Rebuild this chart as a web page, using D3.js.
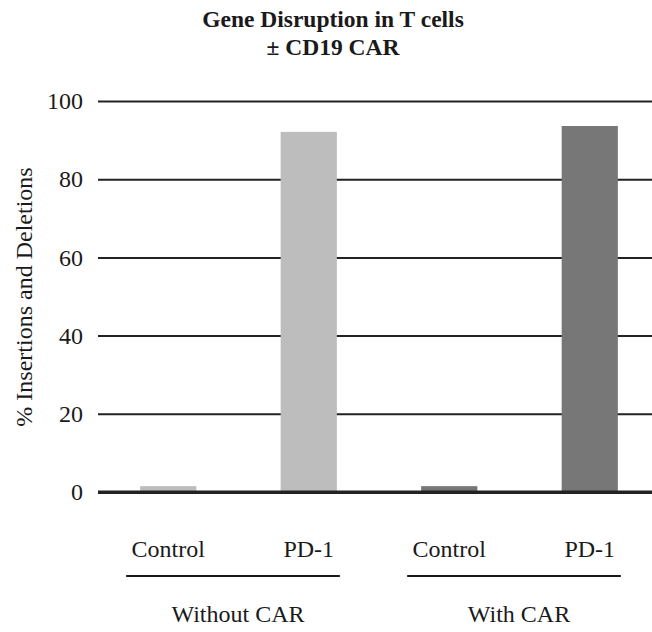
<!DOCTYPE html>
<html>
<head>
<meta charset="utf-8">
<script src="https://cdn.jsdelivr.net/npm/d3@7"></script>
<style>
  html, body { margin: 0; padding: 0; background: #fff; }
</style>
</head>
<body>
<svg id="chart" width="652" height="632"></svg>
<script>
// ---- data ----
const categories = ["Control", "PD-1", "Control", "PD-1"];
const groupOf = ["Without CAR", "Without CAR", "With CAR", "With CAR"];
const values = [1.5, 92.1, 1.5, 93.6];
const barColors = ["#bdbdbd", "#bdbdbd", "#777777", "#777777"];
const groups = ["Without CAR", "With CAR"];
const yTicks = [0, 20, 40, 60, 80, 100];
const titleLines = ["Gene Disruption in T cells", "\u00b1 CD19 CAR"];
const yLabel = "% Insertions and Deletions";

const FONT = '"Liberation Serif"';
const svg = d3.select("#chart");
const W = 652;

const x = d3.scaleBand()
  .domain(d3.range(categories.length))
  .range([98, 660])
  .paddingInner(0.6)
  .paddingOuter(0.3);

const y = d3.scaleLinear().domain([0, 100]).range([492, 101]);

function styleText(sel, size, weight) {
  return sel.style("font-family", FONT)
    .style("font-size", size + "px")
    .style("font-weight", weight || "normal")
    .attr("fill", "#1a1a1a");
}

// title
styleText(svg.append("g").selectAll("text").data(titleLines).join("text")
  .attr("x", 333)
  .attr("y", (d, i) => 27 + i * 28)
  .attr("text-anchor", "middle")
  .text(d => d), 23.5, "bold");

// gridlines + tick labels via axis
const yAxis = d3.axisLeft(y).tickValues(yTicks).tickSize(-(W - 98)).tickPadding(15).tickFormat(d3.format("d"));
const ga = svg.append("g").attr("transform", "translate(98,0)").call(yAxis);
ga.select(".domain").remove();
ga.selectAll(".tick line")
  .attr("stroke", "#222")
  .attr("stroke-width", d => d === 0 ? 3 : 2);
styleText(ga.selectAll(".tick text"), 24);

// y axis title
styleText(svg.append("text")
  .attr("transform", "translate(32,297) rotate(-90)")
  .attr("text-anchor", "middle")
  .text(yLabel), 24);

// bars
svg.append("g").selectAll("rect").data(values).join("rect")
  .attr("x", (d, i) => x(i))
  .attr("width", x.bandwidth())
  .attr("y", d => y(d))
  .attr("height", d => y(0) - y(d))
  .attr("fill", (d, i) => barColors[i]);

// baseline over bars' bottom edge
svg.append("line")
  .attr("x1", 98).attr("x2", W)
  .attr("y1", y(0)).attr("y2", y(0))
  .attr("stroke", "#222").attr("stroke-width", 3);

// category labels
styleText(svg.append("g").selectAll("text").data(categories).join("text")
  .attr("x", (d, i) => x(i) + x.bandwidth() / 2)
  .attr("y", 557)
  .attr("text-anchor", "middle")
  .text(d => d), 24);

// group underlines and labels
groups.forEach(g => {
  const idx = d3.range(categories.length).filter(i => groupOf[i] === g);
  const x0 = x(idx[0]) - 14;
  const x1 = x(idx[idx.length - 1]) + x.bandwidth() + 3;
  svg.append("line")
    .attr("x1", x0).attr("x2", x1)
    .attr("y1", 576).attr("y2", 576)
    .attr("stroke", "#1a1a1a").attr("stroke-width", 2);
  styleText(svg.append("text")
    .attr("x", (x0 + x1) / 2 + 5)
    .attr("y", 622)
    .attr("text-anchor", "middle")
    .text(g), 24);
});
</script>
</body>
</html>
